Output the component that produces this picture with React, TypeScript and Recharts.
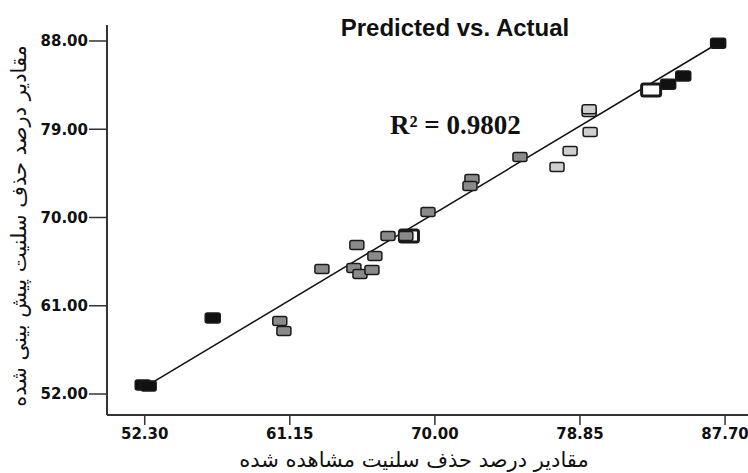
import React from "react";
import {
  ScatterChart,
  Scatter,
  XAxis,
  YAxis,
  ReferenceLine,
} from "recharts";

interface Pt {
  x: number;
  y: number;
}

// actual (x) vs predicted (y)
const blackPts: Pt[] = [
  { x: 52.18, y: 52.92 },
  { x: 52.54, y: 52.82 },
  { x: 56.45, y: 59.75 },
  { x: 84.23, y: 83.6 },
  { x: 85.15, y: 84.42 },
  { x: 87.28, y: 87.78 },
];

const hollowPts: Pt[] = [
  { x: 68.42, y: 68.11 },
  { x: 83.19, y: 82.99 },
];

const grayPts: Pt[] = [
  { x: 60.54, y: 59.44 },
  { x: 60.79, y: 58.42 },
  { x: 63.11, y: 64.74 },
  { x: 65.24, y: 67.19 },
  { x: 65.06, y: 64.84 },
  { x: 65.43, y: 64.23 },
  { x: 66.16, y: 64.64 },
  { x: 66.34, y: 66.07 },
  { x: 67.14, y: 68.11 },
  { x: 68.23, y: 68.11 },
  { x: 69.58, y: 70.55 },
  { x: 72.26, y: 73.92 },
  { x: 72.14, y: 73.2 },
  { x: 75.19, y: 76.16 },
];

const lightPts: Pt[] = [
  { x: 77.45, y: 75.14 },
  { x: 78.25, y: 76.77 },
  { x: 79.47, y: 78.71 },
  { x: 79.41, y: 80.75 },
  { x: 79.41, y: 81.05 },
];

const fitLine: Pt[] = [
  { x: 52.45, y: 52.85 },
  { x: 87.5, y: 88.0 },
];

const xTicks = [52.3, 61.15, 70.0, 78.85, 87.7];
const yTicks = [52, 61, 70, 79, 88];

const xTitle = "مقادیر درصد حذف سلنیت مشاهده شده";
const yTitle = "مقادیر درصد حذف سلنیت پیش بینی شده";

const makeBox =
  (fill: string, w = 14, h = 9, sw = 1.5) =>
  (props: any) => {
    const { cx, cy } = props;
    return (
      <rect
        x={cx - w / 2}
        y={cy - h / 2}
        width={w}
        height={h}
        rx={2}
        fill={fill}
        stroke="#1a1a1a"
        strokeWidth={sw}
      />
    );
  };

const tickFont = {
  fontFamily: "DejaVu Sans",
  fontWeight: "bold" as const,
  fontSize: 15,
  fill: "#111",
};

const persianFont = {
  fontFamily: "DejaVu Sans",
  fontSize: 21,
  fill: "#111",
};

export default function App() {
  return (
    <div style={{ position: "absolute", left: 0, top: 0 }}>
      <ScatterChart
        width={748}
        height={473}
        margin={{ top: 25, right: 0, left: 0, bottom: 0 }}
      >
        <XAxis
          type="number"
          dataKey="x"
          domain={[50, 89.1]}
          ticks={xTicks}
          tickFormatter={(v: number) => v.toFixed(2)}
          allowDataOverflow
          height={58}
          tickSize={10}
          tickMargin={3}
          axisLine={{ stroke: "#333", strokeWidth: 2 }}
          tickLine={{ stroke: "#333", strokeWidth: 1.5 }}
          tick={tickFont}
        />
        <YAxis
          type="number"
          dataKey="y"
          domain={[49.86, 89.63]}
          ticks={yTicks}
          tickFormatter={(v: number) => v.toFixed(2)}
          allowDataOverflow
          width={107}
          tickSize={18}
          tickMargin={1}
          axisLine={{ stroke: "#333", strokeWidth: 2 }}
          tickLine={{ stroke: "#333", strokeWidth: 1.5 }}
          tick={tickFont}
        />
        <ReferenceLine
          segment={fitLine}
          stroke="#111"
          strokeWidth={1.5}
          ifOverflow="extendDomain"
        />
        <Scatter
          data={hollowPts}
          shape={makeBox("#fff", 19, 12, 3)}
          isAnimationActive={false}
        />
        <Scatter
          data={grayPts}
          shape={makeBox("#8a8a8a")}
          isAnimationActive={false}
        />
        <Scatter
          data={lightPts}
          shape={makeBox("#cfcfcf")}
          isAnimationActive={false}
        />
        <Scatter
          data={blackPts}
          shape={makeBox("#111", 15, 10)}
          isAnimationActive={false}
        />
        <text
          x={455}
          y={36}
          textAnchor="middle"
          style={{
            fontFamily: "Liberation Sans",
            fontWeight: "bold",
            fontSize: 24,
            fill: "#111",
          }}
        >
          Predicted vs. Actual
        </text>
        <text
          x={390}
          y={134}
          style={{
            fontFamily: "Liberation Serif",
            fontWeight: "bold",
            fontSize: 27,
            fill: "#111",
          }}
        >
          R² = 0.9802
        </text>
        <text
          x={414}
          y={467}
          textAnchor="middle"
          style={persianFont}
        >
          {xTitle}
        </text>
        <text
          x={0}
          y={0}
          textAnchor="middle"
          transform="translate(26, 226) rotate(-90)"
          style={persianFont}
        >
          {yTitle}
        </text>
      </ScatterChart>
    </div>
  );
}
